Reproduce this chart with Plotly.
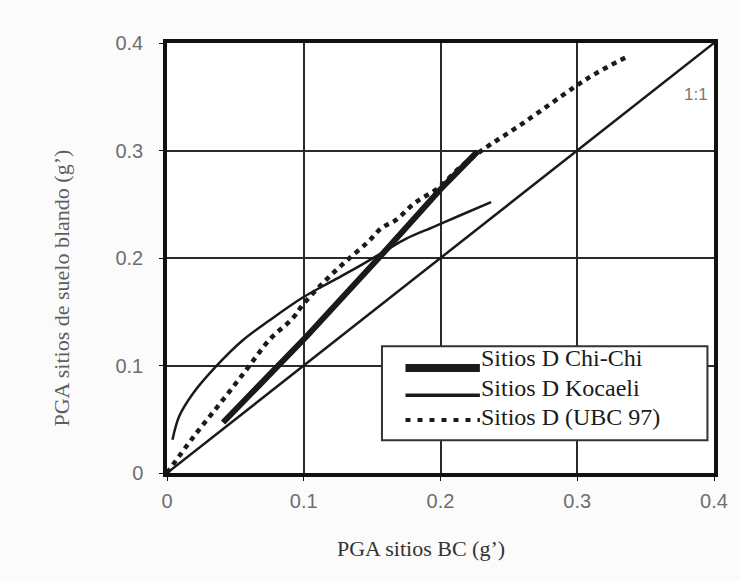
import plotly.graph_objects as go

# Reference 1:1 line
ref_x = [0.0, 0.4]
ref_y = [0.0, 0.4]

# Sitios D Chi-Chi
chichi_x = [0.041, 0.102, 0.157, 0.200, 0.227]
chichi_y = [0.047, 0.127, 0.203, 0.264, 0.299]

# Sitios D Kocaeli
kocaeli_x = [0.004, 0.009, 0.019, 0.035, 0.055, 0.075, 0.099, 0.120, 0.140, 0.160, 0.175, 0.195, 0.215, 0.237]
kocaeli_y = [0.031, 0.053, 0.074, 0.098, 0.123, 0.142, 0.163, 0.178, 0.192, 0.207, 0.218, 0.229, 0.240, 0.252]

# Sitios D (UBC 97)
ubc_x = [0.0, 0.019, 0.039, 0.058, 0.075, 0.092, 0.099, 0.115, 0.130, 0.147, 0.157, 0.167, 0.181, 0.198, 0.215, 0.229, 0.261, 0.298, 0.314, 0.336]
ubc_y = [0.0, 0.033, 0.065, 0.096, 0.124, 0.144, 0.156, 0.178, 0.196, 0.215, 0.228, 0.235, 0.251, 0.265, 0.285, 0.299, 0.326, 0.359, 0.372, 0.387]

tick_vals = [0, 0.1, 0.2, 0.3, 0.4]
tick_text = ["0", "0.1", "0.2", "0.3", "0.4"]

legend_names = ["Sitios D Chi-Chi", "Sitios D Kocaeli", "Sitios D (UBC 97)"]

fig = go.Figure()
fig.add_trace(go.Scatter(x=ref_x, y=ref_y, mode="lines",
                         line=dict(color="#1a1a1a", width=2.5), showlegend=False))
fig.add_trace(go.Scatter(x=kocaeli_x, y=kocaeli_y, mode="lines", line_shape="spline",
                         line=dict(color="#1a1a1a", width=2.5, smoothing=1), showlegend=False))
fig.add_trace(go.Scatter(x=chichi_x, y=chichi_y, mode="lines",
                         line=dict(color="#1a1a1a", width=6), showlegend=False))
fig.add_trace(go.Scatter(x=ubc_x, y=ubc_y, mode="lines", line_shape="spline",
                         line=dict(color="#1a1a1a", width=4.5, dash="5px,5px"), showlegend=False))

# 1:1 label
fig.add_annotation(x=0.387, y=0.352, text="1:1", showarrow=False,
                   font=dict(family="Liberation Sans", size=17, color="#777777"))

# Legend box drawn in paper coordinates
L, R, T, B = 0.393, 0.988, 0.295, 0.076
fig.add_shape(type="rect", xref="paper", yref="paper", x0=L, x1=R, y0=B, y1=T,
              line=dict(color="#333333", width=2), fillcolor="white", layer="above")
sample_styles = [dict(width=8, dash="solid"), dict(width=3.5, dash="solid"), dict(width=4, dash="5px,7px")]
line_rows = [0.244, 0.181, 0.123]
text_rows = [0.267, 0.198, 0.130]
for name, st, ly, ty in zip(legend_names, sample_styles, line_rows, text_rows):
    fig.add_shape(type="line", xref="paper", yref="paper", x0=0.436, x1=0.572, y0=ly, y1=ly,
                  line=dict(color="#1a1a1a", width=st["width"], dash=st["dash"]), layer="above")
    fig.add_annotation(xref="paper", yref="paper", x=0.570, y=ty, xanchor="left",
                       yanchor="middle", text=name, showarrow=False,
                       font=dict(family="Liberation Serif", size=24, color="#1a1a1a"))

# Axis titles
fig.add_annotation(xref="paper", yref="paper", x=0.465, y=-0.175, xanchor="center", yanchor="middle",
                   text="PGA sitios BC (g’)", showarrow=False,
                   font=dict(family="Liberation Serif", size=22, color="#333333"))
fig.add_annotation(xref="paper", yref="paper", x=-0.193, y=0.43, xanchor="center", yanchor="middle",
                   text="PGA sitios de suelo blando (g’)", showarrow=False, textangle=-90,
                   font=dict(family="Liberation Serif", size=22, color="#5e5e5e"))

axis_common = dict(
    range=[0, 0.4], tickvals=tick_vals, ticktext=tick_text,
    showgrid=True, gridcolor="#2a2a2a", gridwidth=1.5,
    showline=True, linecolor="#111111", linewidth=3.5, mirror=True,
    zeroline=False, ticks="outside", ticklen=4, tickcolor="#111111",
    tickfont=dict(family="Liberation Sans", size=20, color="#6e6e6e"),
)

fig.update_layout(
    width=740, height=581,
    margin=dict(l=167, r=23, t=43, b=108),
    paper_bgcolor="#fbfbfb", plot_bgcolor="white",
    xaxis=dict(**axis_common, ticklabelstandoff=3),
    yaxis=dict(**axis_common, ticklabelstandoff=12),
)

fig.write_html("out.html")
